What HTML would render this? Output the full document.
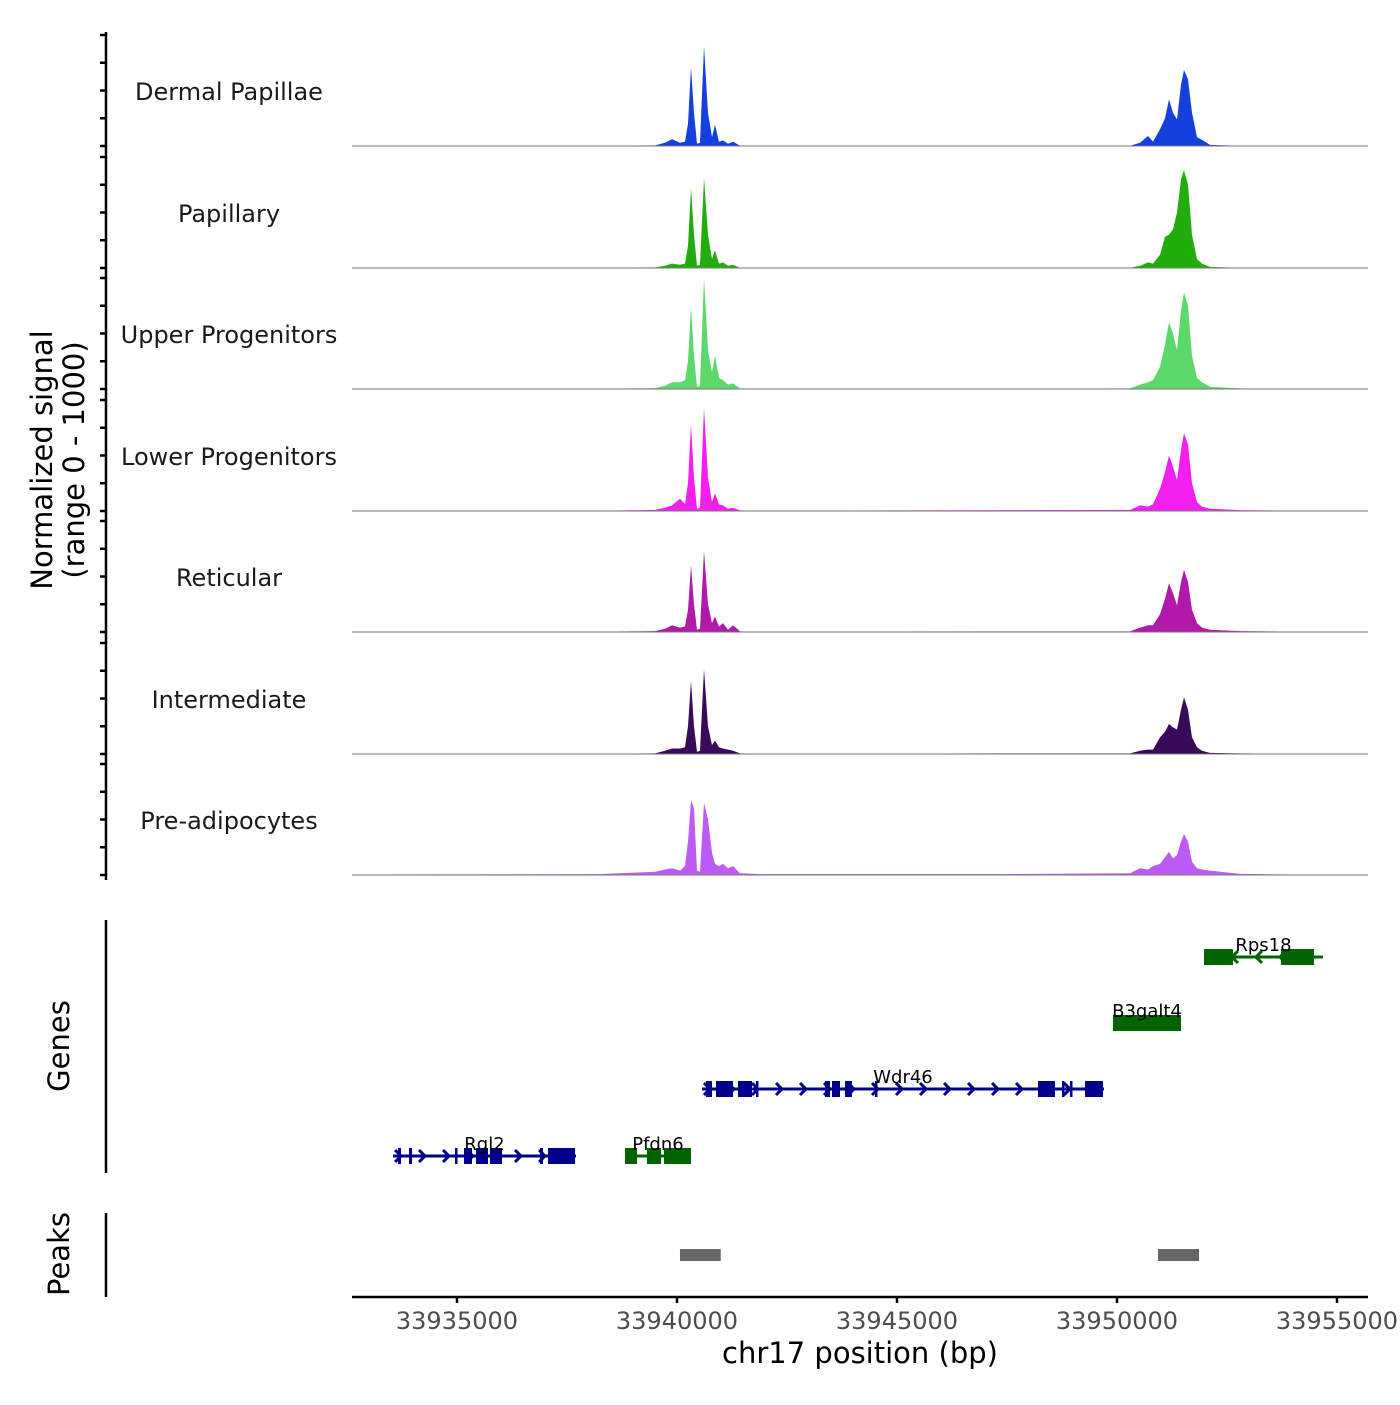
<!DOCTYPE html>
<html><head><meta charset="utf-8"><style>
body{margin:0;background:#fff}
svg text{font-family:"DejaVu Sans","Liberation Sans",sans-serif}
</style></head><body>
<svg id="c" width="1400" height="1400" xmlns="http://www.w3.org/2000/svg"></svg>
<script>
const trackNames=["Dermal Papillae","Papillary","Upper Progenitors","Lower Progenitors","Reticular","Intermediate","Pre-adipocytes"];
const trackColors=["#1640dc","#21ad0c","#5bd96a","#f21ff0","#b11aa9","#3a0a5a","#bd5cf5"];
const positions=[33932614,33933705,33938250,33939500,33939727,33939886,33940068,33940182,33940250,33940318,33940386,33940455,33940523,33940614,33940705,33940795,33940864,33940955,33941045,33941159,33941273,33941432,33941886,33947341,33950296,33950523,33950705,33950818,33950977,33951091,33951182,33951273,33951364,33951455,33951523,33951614,33951705,33951818,33951932,33952114,33952796,33954727];
const sigDermal=[0,2,2,5,30,60,30,40,200,712,300,20,30,900,300,80,190,40,50,20,40,3,2,2,3,30,90,40,150,250,420,300,240,550,685,600,300,80,55,10,3,0];
const sigPapillary=[0,2,2,5,20,40,30,40,200,720,300,20,30,810,300,80,160,40,50,20,30,3,2,2,3,20,50,40,120,280,300,350,500,800,880,750,300,80,40,10,3,0];
const sigUpper=[0,3,3,8,30,60,60,80,250,740,300,20,30,1000,350,150,300,100,80,40,50,5,3,3,5,40,60,80,200,400,600,500,350,700,870,750,300,100,60,20,5,0];
const sigLower=[0,3,3,10,30,50,110,60,250,780,300,20,30,930,300,80,160,60,50,20,30,5,3,8,10,50,40,60,200,350,500,400,280,550,700,600,250,80,40,20,8,0];
const sigReticular=[0,3,3,8,30,60,40,50,200,600,250,20,30,730,250,80,140,50,80,20,60,5,3,5,5,40,60,60,160,300,440,350,240,450,560,450,200,80,40,20,8,0];
const sigIntermediate=[0,2,2,5,30,50,50,60,250,660,250,20,30,765,250,80,120,60,50,40,30,5,2,5,5,30,40,40,150,200,270,240,220,400,510,400,150,60,30,10,5,0];
const sigPreadipo=[0,5,8,30,50,60,40,80,300,675,600,40,30,650,500,200,100,80,100,60,80,15,8,8,15,60,50,80,100,160,210,150,180,300,370,300,120,60,50,40,10,0];
const signals=[sigDermal,sigPapillary,sigUpper,sigLower,sigReticular,sigIntermediate,sigPreadipo];
const xTicks=[33935000,33940000,33945000,33950000,33955000];
const geneNames=["Rgl2","Pfdn6","Wdr46","B3galt4","Rps18"];
const geneStarts=[33933546,33938818,33940568,33949909,33951977];
const geneEnds=[33937705,33940318,33949705,33951455,33954682];
const geneStrands=["+","-","+","-","-"];
const geneRows=[0,0,1,2,3];
const geneExons=[
 [[33933659,33933728],[33933909,33933978],[33934955,33935000],[33935160,33935341],[33935432,33935705],[33935750,33936023],[33936887,33936955],[33937068,33937682]],
 [[33938818,33939091],[33939318,33939637],[33939705,33940318]],
 [[33940659,33940795],[33940886,33941273],[33941386,33941705],[33941795,33941841],[33943364,33943478],[33943523,33943705],[33943818,33943977],[33944500,33944546],[33948205,33948591],[33948750,33948796],[33948932,33948977],[33949273,33949682]],
 [[33949909,33951455]],
 [[33951977,33952636],[33953727,33954477]]
];
const peakStarts=[33940068,33950932];
const peakEnds=[33940995,33951864];

const NS="http://www.w3.org/2000/svg";
const svg=document.getElementById('c');
function mk(t,a,p){const e=document.createElementNS(NS,t);for(const k in a)e.setAttribute(k,a[k]);(p||svg).appendChild(e);return e;}
const X0=33932614,PX0=352,K=0.044;
const xs=v=>PX0+(v-X0)*K;
const baselines=[146,268,389,511,632,754,875];
const ys=(b,v)=>b-v/1000*111;

const la=mk('line',{x1:106,y1:32,x2:106,y2:880,stroke:'#000','stroke-width':2.5});

baselines.forEach((b,ti)=>{
 for(let i=0;i<5;i++){const y=b-i*27.75;const t=mk('line',{x1:100,y1:y,x2:106,y2:y,stroke:'#000','stroke-width':2.5});
 }
 const s=signals[ti];
 let d='M'+xs(positions[0])+','+b;
 positions.forEach((p,i)=>{d+=' L'+xs(p).toFixed(1)+','+ys(b,s[i]).toFixed(1);});
 d+=' L'+xs(positions[positions.length-1])+','+b+' Z';
 const a=mk('path',{d:d,fill:trackColors[ti]});
 
 const bl=mk('line',{x1:352,y1:b,x2:1368,y2:b,stroke:'#777','stroke-width':1});
 
 const tx=mk('text',{x:229,y:b-46,'text-anchor':'middle','font-size':24,fill:'#1a1a1a'});tx.textContent=trackNames[ti];
 
});
const yt=mk('text',{transform:'translate(52,460) rotate(-90)','text-anchor':'middle','font-size':29,fill:'#000'});

const t1=mk('tspan',{x:0,dy:0},yt);t1.textContent='Normalized signal';
const t2=mk('tspan',{x:0,dy:32},yt);t2.textContent='(range 0 - 1000)';

const ga=mk('line',{x1:106,y1:920,x2:106,y2:1173,stroke:'#000','stroke-width':2.5});

const gt=mk('text',{transform:'translate(69,1046) rotate(-90)','text-anchor':'middle','font-size':29});gt.textContent='Genes';

const rowY=[1156,1089,1023,957];
geneNames.forEach((n,gi)=>{
 const col=geneStrands[gi]=='+'?'#00008b':'#006400';
 const y=rowY[geneRows[gi]];
 const g=mk('g',{});
 const x1=xs(geneStarts[gi]),x2=xs(geneEnds[gi]);
 mk('line',{x1:x1,y1:y,x2:x2,y2:y,stroke:col,'stroke-width':3},g);
 const dir=geneStrands[gi]=='+'?1:-1;
 for(let x=x1+6;x<x2-3;x+=24){mk('path',{d:`M${x-4*dir},${y-6} L${x+2*dir},${y} L${x-4*dir},${y+6}`,stroke:col,'stroke-width':3,fill:'none'},g);}
 geneExons[gi].forEach(e=>{mk('rect',{x:xs(e[0]),y:y-8,width:Math.max(2.5,xs(e[1])-xs(e[0])),height:16,fill:col},g);});
 const t=mk('text',{x:(x1+x2)/2,y:y-6,'text-anchor':'middle','font-size':18,fill:'#000'},g);t.textContent=n;
});

const pa=mk('line',{x1:106,y1:1213,x2:106,y2:1297,stroke:'#000','stroke-width':2.5});

const pt=mk('text',{transform:'translate(69,1254) rotate(-90)','text-anchor':'middle','font-size':29});pt.textContent='Peaks';

peakStarts.forEach((s,i)=>{const r=mk('rect',{x:xs(s),y:1249,width:xs(peakEnds[i])-xs(s),height:12,fill:'#666'});
 });

const xa=mk('line',{x1:352,y1:1297,x2:1368,y2:1297,stroke:'#000','stroke-width':2.5});

xTicks.forEach(v=>{const x=xs(v);
 const t=mk('line',{x1:x,y1:1297,x2:x,y2:1303,stroke:'#000','stroke-width':2.5});
 
 const l=mk('text',{x:x,y:1329,'text-anchor':'middle','font-size':24,fill:'#4d4d4d'});l.textContent=v;
 });
const xt=mk('text',{x:860,y:1363,'text-anchor':'middle','font-size':29});xt.textContent='chr17 position (bp)';

</script>
</body></html>
